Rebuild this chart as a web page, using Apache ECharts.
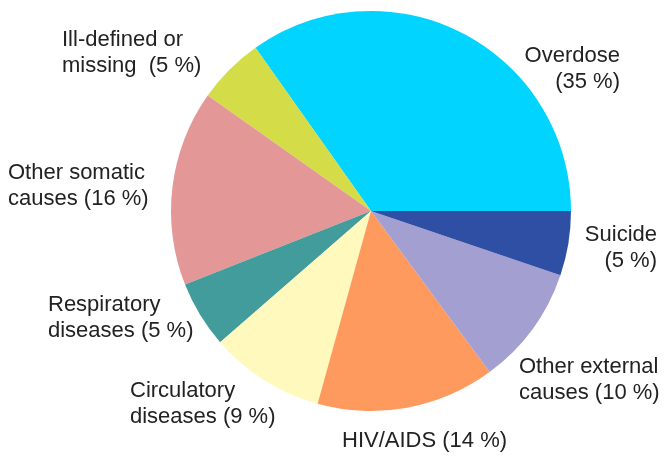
<!DOCTYPE html>
<html>
<head>
<meta charset="utf-8">
<script src="https://cdn.jsdelivr.net/npm/echarts@6/dist/echarts.min.js"></script>
<style>
html,body{margin:0;padding:0;background:#fff;}
#chart{width:664px;height:456px;}
</style>
</head>
<body>
<div id="chart"></div>
<script>
// Data
var categories = ['Overdose', 'Ill-defined or missing', 'Other somatic causes', 'Respiratory diseases', 'Circulatory diseases', 'HIV/AIDS', 'Other external causes', 'Suicide'];
var shares = [34.8, 5.4, 15.8, 5.4, 9.3, 14.4, 9.7, 5.2];
var labelTexts = ['Overdose\n(35 %)', 'Ill-defined or\nmissing  (5 %)', 'Other somatic\ncauses (16 %)', 'Respiratory\ndiseases (5 %)', 'Circulatory\ndiseases (9 %)', 'HIV/AIDS (14 %)', 'Other external\ncauses (10 %)', 'Suicide\n(5 %)'];

// Styling / layout (not data)
var colors = ['#00D4FF', '#D4DC48', '#E39797', '#419C9B', '#FFF9BD', '#FF9A5E', '#A39FD0', '#2E4FA3'];
var LH = 26;
var labelPlace = [
  {x: 620, y: 56.3, align: 'right'},
  {x: 62, y: 39.8, align: 'left'},
  {x: 8, y: 173, align: 'left'},
  {x: 48, y: 305, align: 'left'},
  {x: 130, y: 391, align: 'left'},
  {x: 342, y: 441.3, align: 'left'},
  {x: 519, y: 367, align: 'left'},
  {x: 657, y: 235.3, align: 'right'}
];

var chart = echarts.init(document.getElementById('chart'), null, {renderer: 'canvas'});
var data = categories.map(function (c, i) {
  return {name: c, value: shares[i], itemStyle: {color: colors[i]}};
});
chart.setOption({
  animation: false,
  backgroundColor: '#ffffff',
  series: [{
    type: 'pie',
    center: [371, 211],
    radius: [0, 200],
    startAngle: 0,
    clockwise: false,
    avoidLabelOverlap: false,
    data: data,
    itemStyle: {borderWidth: 0},
    emphasis: {disabled: true},
    label: {
      show: true,
      position: 'outside',
      formatter: function (p) { return labelTexts[p.dataIndex]; },
      fontFamily: '"Liberation Sans", Arial, sans-serif',
      fontSize: 22,
      lineHeight: LH,
      color: '#222222'
    },
    labelLine: {show: false},
    labelLayout: function (params) {
      var p = labelPlace[params.dataIndex];
      return {x: p.x, y: p.y - LH / 2, align: p.align, verticalAlign: 'top'};
    }
  }]
});
</script>
</body>
</html>
